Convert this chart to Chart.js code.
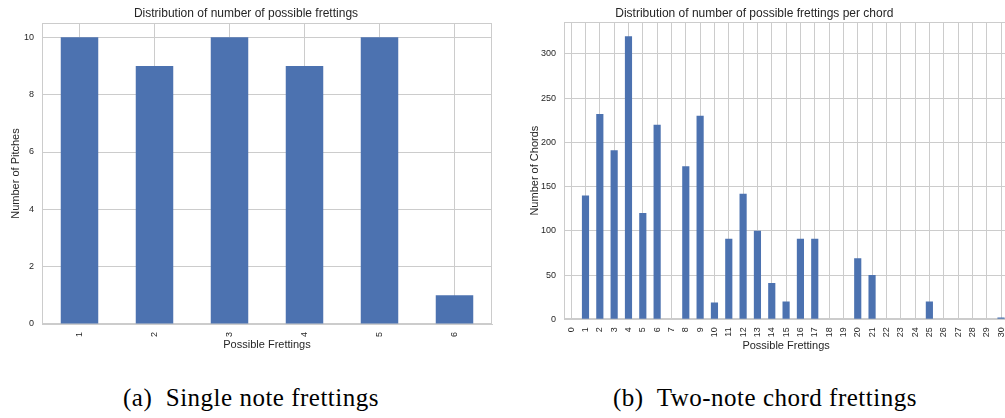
<!DOCTYPE html>
<html>
<head>
<meta charset="utf-8">
<script src="https://cdn.jsdelivr.net/npm/chart.js@4.4.1/dist/chart.umd.min.js"></script>
<style>
  html, body { margin: 0; padding: 0; background: #ffffff; }
  body { width: 1005px; height: 418px; overflow: hidden; position: relative; }
  canvas { position: absolute; top: 0; }
  #c1 { left: 0; }
  #c2 { left: 500px; }
  .cap { position: absolute; top: 383px; font-family: 'Liberation Serif', 'Times New Roman', serif; font-size: 25px; letter-spacing: 0.5px; color: #000; white-space: pre; line-height: 30px; }
</style>
</head>
<body>
<canvas id="c1" width="500" height="360"></canvas>
<canvas id="c2" width="520" height="360"></canvas>
<div class="cap" id="capA" style="left:123px">(a)  Single note frettings</div>
<div class="cap" id="capB" style="left:613px">(b)  Two-note chord frettings</div>
<script>
// ---- data ----
const singleCategories = ['1', '2', '3', '4', '5', '6'];
const singleValues = [10, 9, 10, 9, 10, 1];

const chordCategories = ['0','1','2','3','4','5','6','7','8','9','10','11','12','13','14','15',
  '16','17','18','19','20','21','22','23','24','25','26','27','28','29','30'];
const chordValues = [0, 140, 232, 191, 320, 120, 220, 0, 173, 230, 19, 91, 142, 100, 41, 20,
  91, 91, 0, 0, 69, 50, 0, 0, 0, 20, 0, 0, 0, 0, 2];

const singleTitle = 'Distribution of number of possible frettings';
const chordTitle = 'Distribution of number of possible frettings per chord';
const xLabel = 'Possible Frettings';
const singleYLabel = 'Number of Pitches';
const chordYLabel = 'Number of Chords';

// ---- styling ----
const BAR = '#4C72B0';
const GRID = '#cccccc';
const TEXT = '#262626';
Chart.defaults.font.family = "'Liberation Sans', Arial, sans-serif";
Chart.defaults.color = TEXT;

const framePlugin = {
  id: 'frame',
  beforeDatasetsDraw(chart) {
    const a = chart.chartArea;
    const ctx = chart.ctx;
    ctx.save();
    ctx.strokeStyle = GRID;
    ctx.lineWidth = 1;
    ctx.strokeRect(Math.round(a.left) + 0.5, Math.round(a.top) + 0.5,
      Math.round(a.right - a.left) - 1, Math.round(a.bottom - a.top) - 1);
    ctx.restore();
  }
};

function makeChart(id, cats, vals, title, yLabel, cfg) {
  return new Chart(document.getElementById(id), {
    type: 'bar',
    data: {
      labels: cats,
      datasets: [{ data: vals, backgroundColor: BAR, borderWidth: 0,
        barPercentage: 0.5, categoryPercentage: 1.0 }]
    },
    options: {
      responsive: false,
      animation: false,
      devicePixelRatio: 1,
      layout: { padding: { left: 0, right: cfg.padRight, top: 0, bottom: 0 } },
      plugins: {
        legend: { display: false },
        tooltip: { enabled: false },
        title: { display: true, text: title, color: TEXT,
          font: { size: 12, weight: 'normal' },
          padding: { top: 6, bottom: cfg.titleBottom } }
      },
      scales: {
        x: {
          type: 'category',
          grid: { color: GRID, offset: false, drawTicks: false },
          border: { display: true, color: GRID },
          ticks: { minRotation: 90, maxRotation: 90, autoSkip: false, padding: 8,
            font: { size: 9 }, color: TEXT },
          title: { display: true, text: xLabel, color: TEXT, font: { size: 11 },
            padding: { top: 0, bottom: cfg.xTitleBottom } },
          afterFit(scale) { scale.height = cfg.xHeight; }
        },
        y: {
          min: 0, max: cfg.yMax,
          grid: { color: GRID, drawTicks: false },
          border: { display: true, color: GRID },
          ticks: { stepSize: cfg.step, includeBounds: false, padding: 8,
            font: { size: 9 }, color: TEXT },
          title: { display: true, text: yLabel, color: TEXT, font: { size: 11 },
            padding: { top: cfg.yTitleTop, bottom: 0 } },
          afterFit(scale) { scale.width = cfg.yWidth; }
        }
      }
    },
    plugins: [framePlugin]
  });
}

makeChart('c1', singleCategories, singleValues, singleTitle, singleYLabel, {
  padRight: 8, titleBottom: 2.6, xHeight: 36, xTitleBottom: 8.4,
  yMax: 10.5, step: 2, yWidth: 42, yTitleTop: 9.4
});
makeChart('c2', chordCategories, chordValues, chordTitle, chordYLabel, {
  padRight: 11.4, titleBottom: 1.6, xHeight: 40.7, xTitleBottom: 7.4,
  yMax: 336, step: 50, yWidth: 64, yTitleTop: 28.4
});
</script>
</body>
</html>
